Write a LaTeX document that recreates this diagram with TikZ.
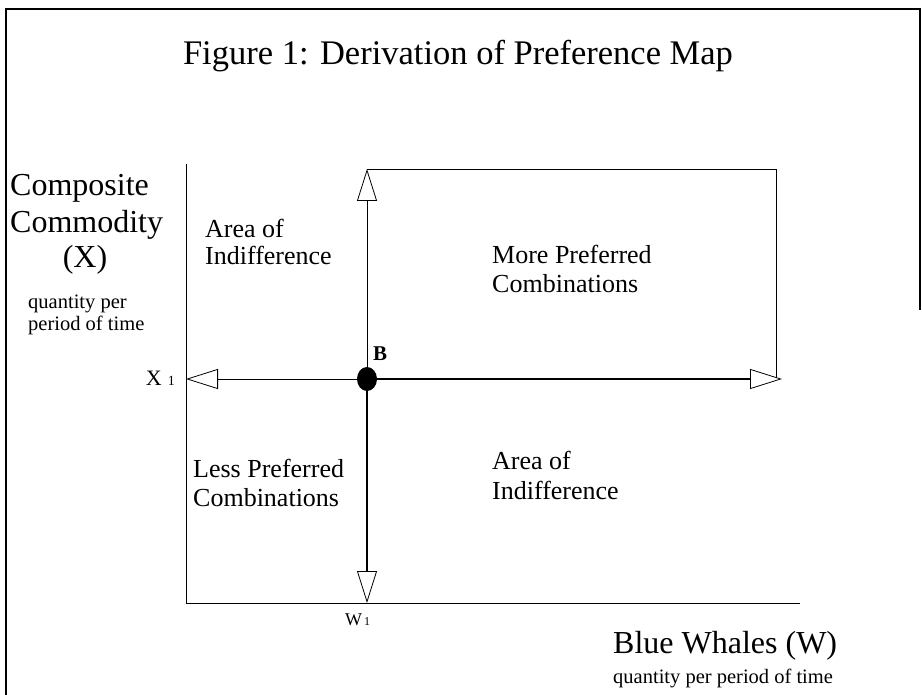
\documentclass[tikz,border=0pt]{standalone}
\usepackage{fontspec}
\setmainfont{Liberation Serif}
\usetikzlibrary{arrows.meta,shapes.geometric}

\tikzset{
  thin line/.style={line width=0.8pt},
  thick line/.style={line width=2.4pt},
  open head/.tip={Triangle[length=32pt,width=20pt,fill=white,line width=0.8pt]},
  bdot/.style={ellipse,fill=black,minimum width=20pt,minimum height=24pt,inner sep=0pt},
  lbl/.style={anchor=base west,inner sep=0pt},
  area/.style={lbl,font=\fontsize{26}{30}\selectfont},
  axis name/.style={lbl,font=\fontsize{32}{38}\selectfont},
  axis unit/.style={lbl,font=\fontsize{20.5}{24}\selectfont},
}

\begin{document}
\begin{tikzpicture}[x=1pt,y=-1pt]
	\useasboundingbox (0,0) rectangle (922,695);

	% frame
	\draw[line width=1.2pt] (6,695) -- (6,9) -- (920,9) -- (920,310);

	\node[anchor=base,inner sep=0pt,font=\fontsize{34.5}{40}\selectfont] (title) at (458,65) {Figure 1: Derivation of Preference Map};

	% axes
	\coordinate (Xtop) at (186,164);
	\coordinate (O)    at (186,603);
	\coordinate (Wend) at (800,603);
	\draw[thin line] (Xtop) -- (O) -- (Wend);

	% point B and its four directions
	\coordinate (B)   at (367,379);
	\coordinate (X1)  at (186,379);
	\coordinate (W1)  at (367,603);
	\coordinate (N)   at (367,169);
	\coordinate (E)   at (782,379);
	\coordinate (NE)  at (776,169);
	\coordinate (NEb) at (776,379);
	\draw[thin line] (N) -- (NE) -- (NEb);
	\draw[thin line,-open head]  (B) -- (X1);
	\draw[thin line,-open head]  (B) -- (N);
	\draw[thick line,-open head] (B) -- (W1);
	\draw[thick line,-open head] (B) -- (E);
	\node[bdot] (Bdot) at (B) {};

	\node[lbl,font=\bfseries\fontsize{21}{21}\selectfont] (blab) at (373,361) {B};
	\node[anchor=base east,inner sep=0pt] (x1lab) at (175,385) {{\fontsize{22}{22}\selectfont X}\hspace{6pt}{\fontsize{14}{14}\selectfont 1}};
	\node[lbl] (w1lab) at (345,625) {{\fontsize{18}{18}\selectfont W}\hspace{2pt}{\fontsize{12}{12}\selectfont 1}};

	% regions
	\node[area] (nw1) at (205,238) {Area of};
	\node[area] (nw2) at (205,265) {Indifference};
	\node[area] (ne1) at (492,264) {More Preferred};
	\node[area] (ne2) at (492,293) {Combinations};
	\node[area] (sw1) at (193,477) {Less Preferred};
	\node[area] (sw2) at (193,506) {Combinations};
	\node[area] (se1) at (492,469) {Area of};
	\node[area] (se2) at (492,499) {Indifference};

	% axis names
	\node[axis name] (ylab1) at (10,196) {Composite};
	\node[axis name] (ylab2) at (10,233) {Commodity};
	\node[axis name,anchor=base] (ylab3) at (85,268) {(X)};
	\node[axis unit] (yunit1) at (28,309) {quantity per};
	\node[axis unit] (yunit2) at (28,331) {period of time};

	\node[axis name] (xlab) at (613,653) {Blue Whales (W)};
	\node[axis unit] (xunit) at (613,683) {quantity per period of time};
\end{tikzpicture}
\end{document}
